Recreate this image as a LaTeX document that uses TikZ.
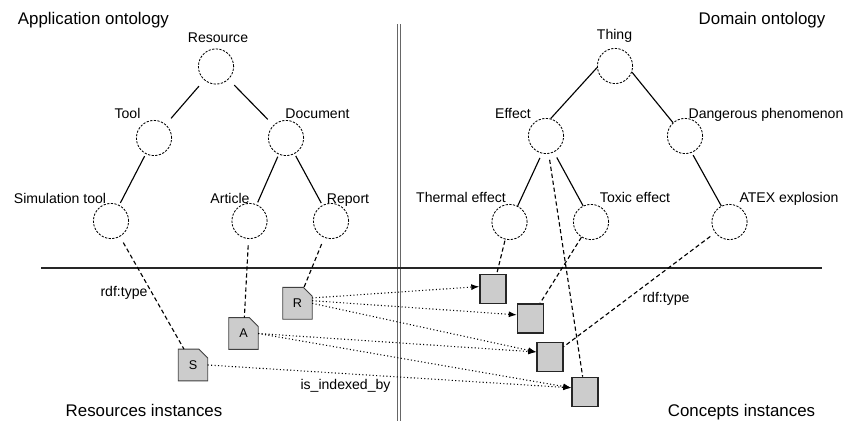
\documentclass[tikz,border=0pt]{standalone}
\usepackage{fontspec}
\setmainfont{Liberation Sans}
\usepackage{tikz}
\usetikzlibrary{positioning,arrows.meta}
\pgfdeclarelayer{background}
\pgfsetlayers{background,main}
\tikzset{
    cls/.style={
        circle,
        draw=black, semithick,
        dash pattern=on 1.6pt off 1pt,
        minimum size=8.8mm,
        inner sep=0pt
    },
    cname/.style={anchor=base, font={\fontsize{10pt}{12}\selectfont}},
    title/.style={anchor=base, font={\fontsize{12pt}{14}\selectfont}},
    docnode/.style={
        rectangle,
        minimum width=7.2mm,
        minimum height=7.8mm,
        inner sep=0pt,
        font={\fontsize{9pt}{11}\selectfont}
    },
    docline/.style={draw=black!75, fill=black!20, semithick},
    inst/.style={
        rectangle,
        draw=black!85, fill=black!20, line width=1pt,
        minimum width=6.5mm,
        minimum height=7.3mm,
        inner sep=0pt
    },
    branch/.style={draw, thick},
    rdftype/.style={draw, thick, dash pattern=on 3pt off 2pt},
    indexed/.style={draw, line width=0.75pt, dash pattern=on 0.75pt off 1.7pt,
        -{Latex[length=2mm,width=1.5mm]}},
    separator/.style={draw=black!60, line width=0.3mm, double=white, double distance=0.55mm},
}
\newcommand{\dogear}[1]{%
    \filldraw[docline] (#1.south west) -- (#1.north west)
        -- ([xshift=-2.2mm]#1.north east) -- ([yshift=-2.2mm]#1.north east)
        -- (#1.south east) -- cycle;}

\begin{document}
\begin{tikzpicture}[x=0.25mm, y=-0.25mm]
\useasboundingbox (0,0) rectangle (845,421);

% frame lines
\coordinate (vtop) at (399,24);
\coordinate (vbot) at (399,421);
\coordinate (hleft) at (41,268);
\coordinate (hright) at (822,268);
\draw[separator] (vtop) -- (vbot);
\draw[thick, black!85] (hleft) -- (hright);

\node[title, anchor=base west] (appT) at (13,24) {Application ontology};
\node[title] (domT) at (762,25) {Domain ontology};
\node[title] (resT) at (144,416.5) {Resources instances};
\node[title] (conT) at (741.5,416) {Concepts instances};

% application ontology
\node[cls] (resource) at (216,66.5) {};
\node[cls] (tool) at (154,138) {};
\node[cls] (document) at (286,138) {};
\node[cls] (simtool) at (111,221) {};
\node[cls] (article) at (249.5,221) {};
\node[cls] (report) at (331,221) {};
\node[cname] (resourceL) at (218,42.5) {Resource};
\node[cname] (toolL) at (127.5,118) {Tool};
\node[cname] (documentL) at (317.5,118) {Document};
\node[cname] (simtoolL) at (60,203) {Simulation tool};
\node[cname] (articleL) at (230,203) {Article};
\node[cname] (reportL) at (348,203) {Report};
\draw[branch, shorten <=2mm, shorten >=2mm] (resource) -- (tool);
\draw[branch, shorten <=2mm, shorten >=2mm] (resource) -- (document);
\draw[branch, shorten <=0.6mm, shorten >=0.6mm] (tool) -- (simtool);
\draw[branch, shorten <=0.6mm, shorten >=0.6mm] (document) -- (article);
\draw[branch, shorten <=0.6mm, shorten >=0.6mm] (document) -- (report);

% domain ontology
\node[cls] (thing) at (615,66) {};
\node[cls] (effect) at (546,136) {};
\node[cls] (danger) at (685,136) {};
\node[cls] (thermal) at (509.5,222) {};
\node[cls] (toxic) at (591,222) {};
\node[cls] (atex) at (729.5,222) {};
\node[cname] (thingL) at (614.5,40) {Thing};
\node[cname] (effectL) at (513,118) {Effect};
\node[cname] (dangerL) at (766,118) {Dangerous phenomenon};
\node[cname] (thermalL) at (461,202) {Thermal effect};
\node[cname] (toxicL) at (635,202) {Toxic effect};
\node[cname] (atexL) at (789,202) {ATEX explosion};
\draw[branch] (thing.185) -- (effect.75);
\draw[branch] (thing.340) -- (danger.132);
\draw[branch, shorten <=1.2mm] (effect.257) -- (thermal.63);
\draw[branch, shorten <=1.5mm] (effect.296) -- (toxic.116);
\draw[branch, shorten <=0.7mm] (danger.292) -- (atex.117);

% resources instances
\node[docnode] (R) at (297.5,303.3) {R};
\node[docnode] (A) at (243.5,333.5) {A};
\node[docnode] (S) at (193,365) {S};
\begin{pgfonlayer}{background}
\dogear{R}
\dogear{A}
\dogear{S}
\end{pgfonlayer}

% concepts instances
\node[inst] (thermalI) at (493,289) {};
\node[inst] (toxicI) at (530.5,318.5) {};
\node[inst] (atexI) at (550,357) {};
\node[inst] (effectI) at (585,392) {};

% rdf:type
\draw[rdftype, shorten <=1.7mm] (simtool) -- (S);
\draw[rdftype, shorten <=1.6mm] (article) -- (A);
\draw[rdftype, shorten <=1.7mm] (report) -- (R);
\draw[rdftype, shorten <=0.3mm] (thermal) -- (thermalI);
\draw[rdftype] (toxic) -- (toxicI);
\draw[rdftype, shorten <=1.5mm] (atex) -- (atexI);
\draw[rdftype, shorten <=1.5mm] (effect) -- (effectI);
\node[cname] (rdfL) at (124,296) {rdf:type};
\node[cname] (rdfR) at (666,302.5) {rdf:type};

% is_indexed_by
\draw[indexed] (R.20) -- (thermalI.170);
\draw[indexed] (R.10) -- (toxicI.165);
\draw[indexed] (R.east) -- (atexI.160);
\draw[indexed] (A.east) -- (atexI.160);
\draw[indexed] (A.east) -- (effectI.163);
\draw[indexed] (S.east) -- (effectI.163);
\node[cname] (idxL) at (345.5,389.5) {is\_indexed\_by};
\end{tikzpicture}
\end{document}
